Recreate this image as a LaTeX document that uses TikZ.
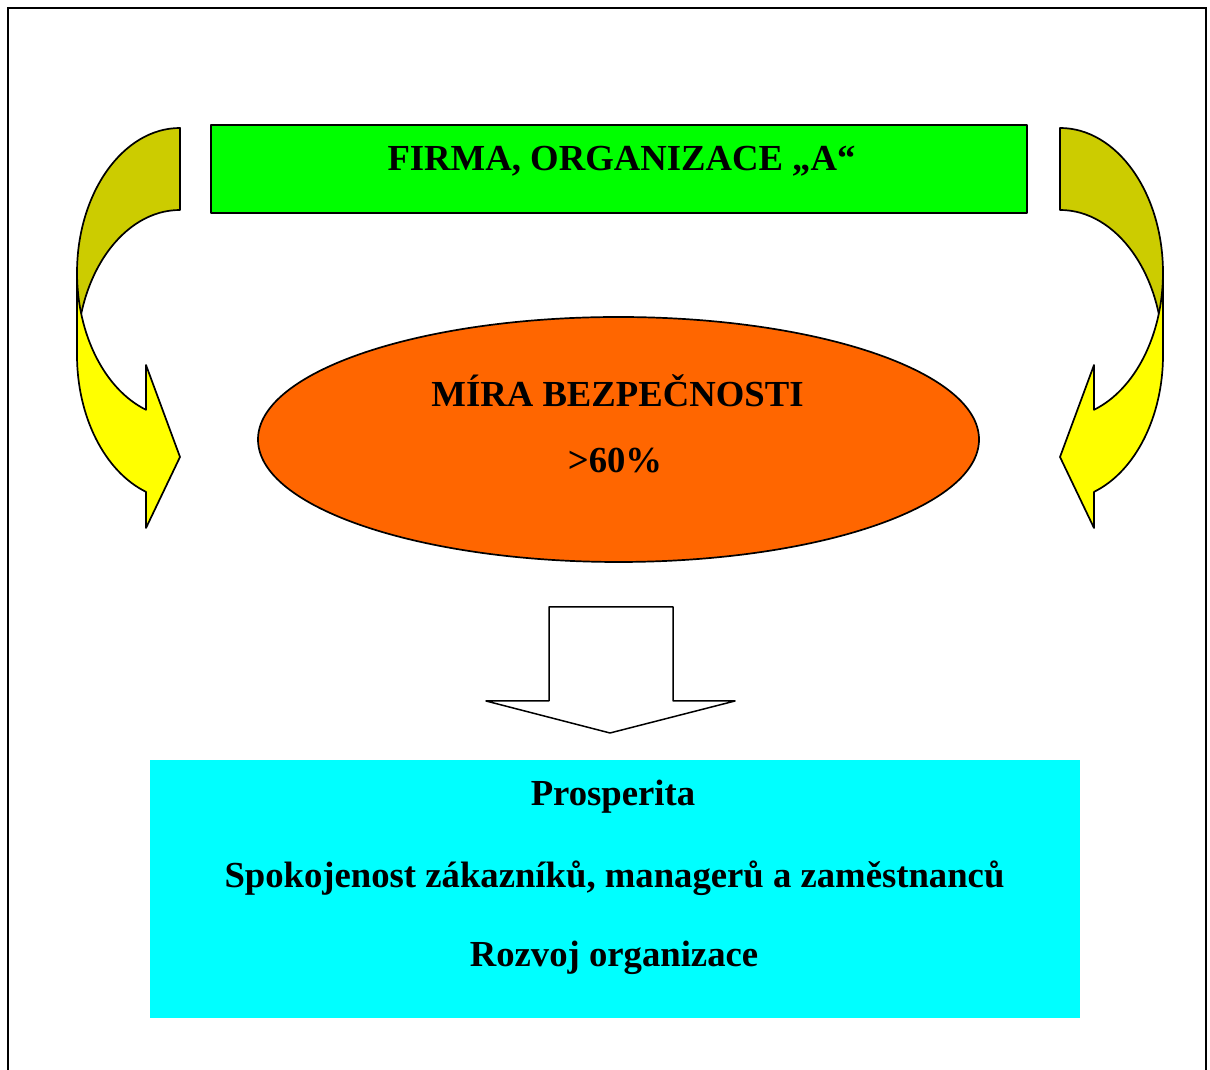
\documentclass[tikz,border=0pt]{standalone}
\usepackage{fontspec}
\setmainfont{Liberation Serif}
\usetikzlibrary{shapes.geometric}
\definecolor{cgreen}{HTML}{00FF00}
\definecolor{corange}{HTML}{FF6600}
\definecolor{ccyan}{HTML}{00FFFF}
\definecolor{colive}{HTML}{CCCC00}
\definecolor{cyellow}{HTML}{FFFF00}
\tikzset{
  shapeline/.style={draw=black, line width=1.7pt, line join=round},
  lbl/.style={font=\fontsize{36.7}{40}\selectfont\bfseries, inner sep=0pt, anchor=base, text=black},
  backband/.style={shapeline, fill=colive},
  frontband/.style={shapeline, fill=cyellow},
}
\newcommand{\curvedarrow}{%
  \draw[backband] (180,942) arc[start angle=90, end angle=180, x radius=103pt, y radius=145pt]
     -- (77,715) arc[start angle=180, end angle=90, x radius=103pt, y radius=145pt] -- cycle;
  \draw[frontband] (77,797) -- (77,715)
     arc[start angle=180, end angle=250.7, x radius=103pt, y radius=145pt]
     -- (146,542) -- (180,613) -- (146,705) -- (146,660.2)
     arc[start angle=250.7, end angle=180, x radius=103pt, y radius=145pt] -- cycle;
}
\begin{document}
\begin{tikzpicture}[x=1pt,y=1pt]
\useasboundingbox (0,0) rectangle (1210,1070);
\fill[white] (0,0) rectangle (1210,1070);
% outer frame
\draw[line width=2.2pt] (8,0) -- (8,1062) -- (1206,1062) -- (1206,0);
% green box
\node[shapeline, fill=cgreen, rectangle, minimum width=816pt, minimum height=88pt, inner sep=0pt] (firma) at (619,901) {};
\node[lbl] (firmatxt) at (621.5,899.3) {FIRMA, ORGANIZACE „A“};
% curved arrows
\curvedarrow
\begin{scope}[xshift=1240pt, xscale=-1]
\curvedarrow
\end{scope}
% ellipse
\node[shapeline, fill=corange, ellipse, minimum width=721pt, minimum height=245pt, inner sep=0pt] (mira) at (618.5,630.5) {};
\node[lbl] (miratxt) at (617.5,663.3) {MÍRA BEZPEČNOSTI};
\node[lbl] (pct) at (615,597) {>60\%};
% down arrow
\draw[shapeline, fill=white, line width=1.5pt] (549,463) -- (673,463) -- (673,369) -- (735,369) -- (610,337) -- (486,369) -- (549,369) -- cycle;
% cyan box
\node[fill=ccyan, rectangle, minimum width=930pt, minimum height=258pt, inner sep=0pt] (result) at (615,181) {};
\node[lbl] (t1) at (613,264.3) {Prosperita};
\node[lbl] (t2) at (614.5,182) {Spokojenost zákazníků, managerů a zaměstnanců};
\node[lbl] (t3) at (614,103.3) {Rozvoj organizace};
\end{tikzpicture}
\end{document}
